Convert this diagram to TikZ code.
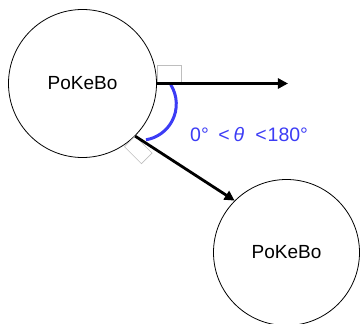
\documentclass[tikz,border=0pt]{standalone}
\usepackage{fontspec}
\setmainfont{Liberation Sans}
\usetikzlibrary{arrows.meta}
\definecolor{arcblue}{RGB}{60,60,245}
\definecolor{boxgray}{RGB}{190,190,190}
\tikzset{
  ball/.style={circle, draw=black, line width=0.8pt, inner sep=0pt, font=\fontsize{19}{22}\selectfont},
  bigarrow/.style={draw=black, line width=2.8pt, -{Triangle[length=10pt,width=10pt]}},
  rightbox/.style={draw=boxgray, line width=0.6pt},
  anglearc/.style={draw=arcblue, line width=3pt},
  anglelabel/.style={text=arcblue, inner sep=0pt, anchor=base west, font=\fontsize{19.5}{23}\selectfont}
}
\begin{document}
\begin{tikzpicture}[x=1pt,y=-1pt]
\useasboundingbox (0,0) rectangle (360,324);
\node[ball, minimum size=148pt] (c1) at (82.5,83.5) {PoKeBo};
\node[ball, minimum size=146pt] (c2) at (286.5,252.5) {PoKeBo};
\coordinate (tip) at (288,83.5);
\coordinate (arcc) at (140,104);
% right-angle marks
\draw[rightbox] (c1.east) -- ++(24pt,0pt) -- ++(0pt,18pt) -- ++(-24pt,0pt) -- cycle;
\draw[rightbox] (c1.-45) -- ++(-135:15pt) -- ++(-45:24pt) -- ++(45:15pt) -- cycle;
% angle arc
\draw[anglearc] ([shift={(32:36.3pt)}]arcc) arc[start angle=32, end angle=-80.5, radius=36.3pt];
% arrows
\draw[bigarrow] (c1.east) -- (tip);
\draw[bigarrow] (c1.-45) -- (c2.135);
\node[anglelabel] (lbl) at (190,141.5) {\rlap{0°}\hspace{28.3pt}\rlap{<}\hspace{15.2pt}\rlap{\textit{θ}}\hspace{21.8pt}\rlap{<}\hspace{12.2pt}180°};
\end{tikzpicture}
\end{document}
